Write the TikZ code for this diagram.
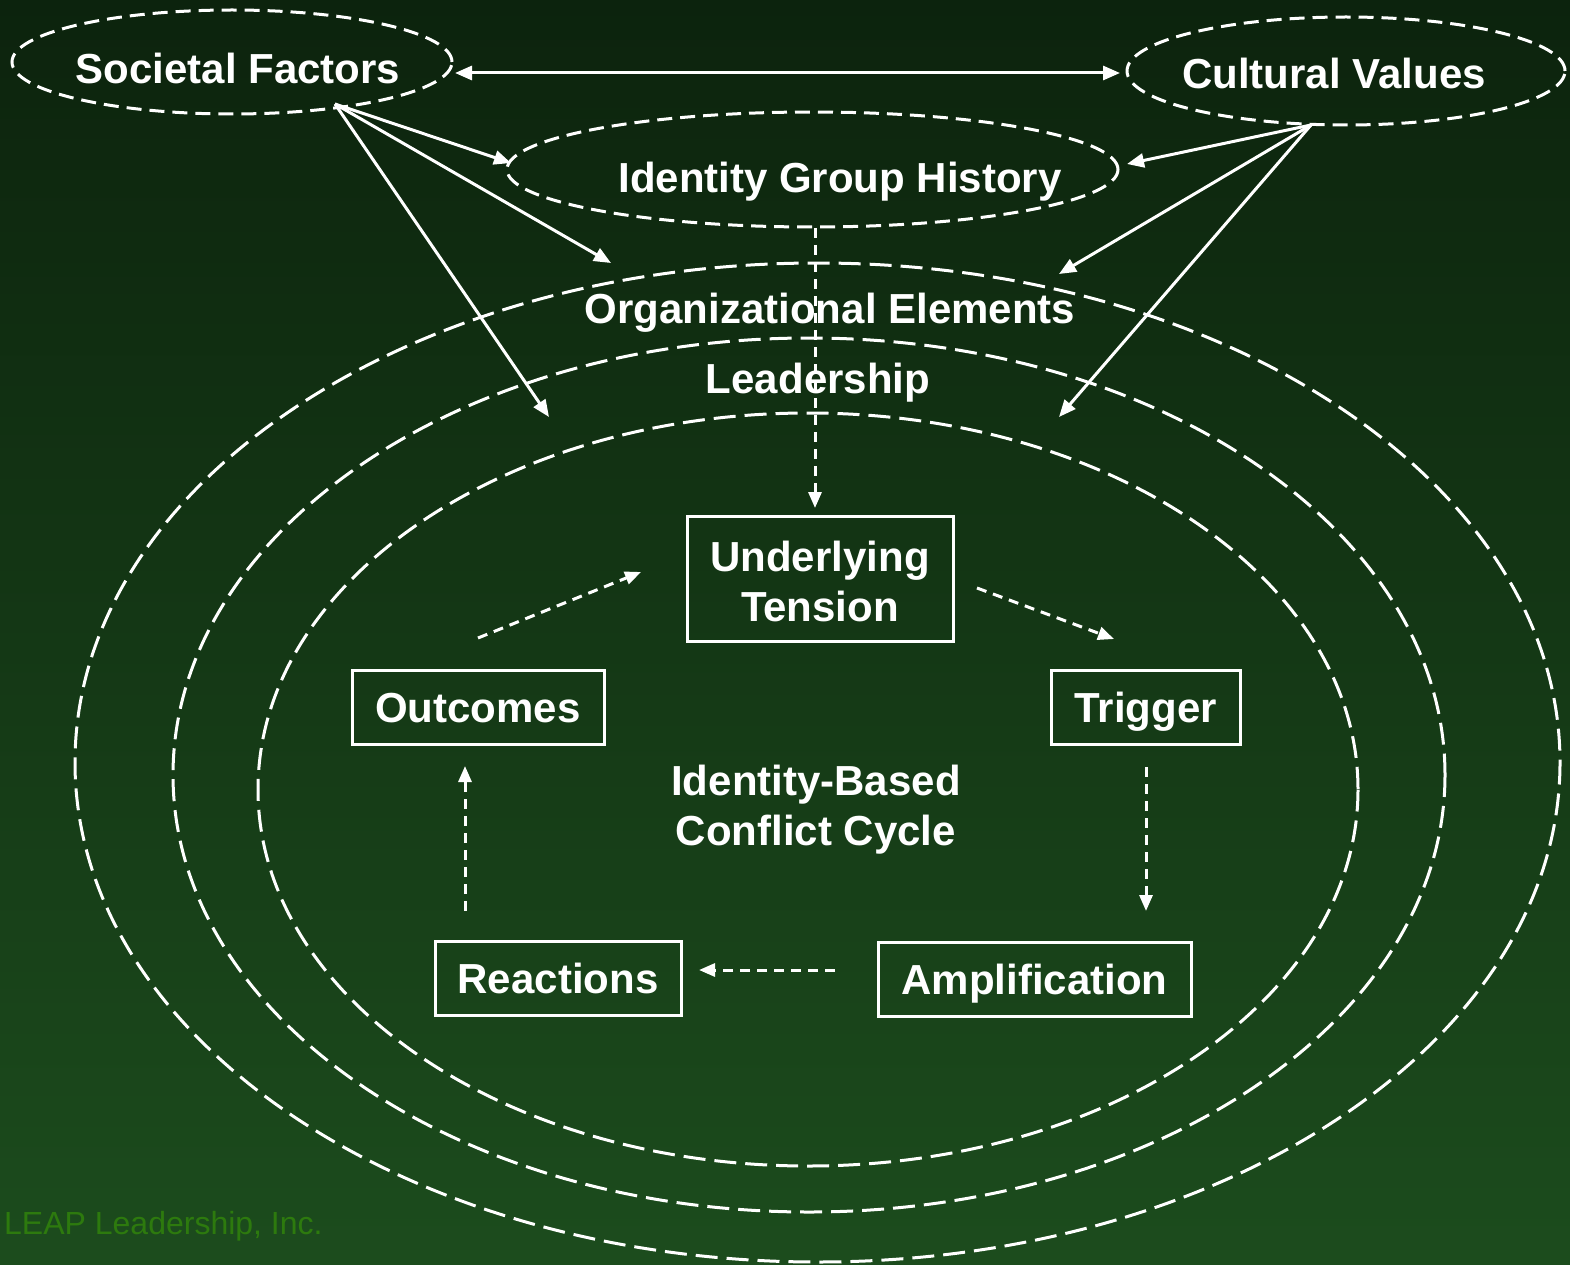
\documentclass[tikz,border=0pt]{standalone}
\usepackage{fontspec}
\setmainfont{Liberation Sans}
\usetikzlibrary{arrows.meta,shapes.geometric}
\definecolor{bgtop}{HTML}{0C230D}
\definecolor{bgmid}{HTML}{163F18}
\definecolor{bgbot}{HTML}{1C4C1D}
\definecolor{wmark}{HTML}{2D7A0E}
\begin{document}
\begin{tikzpicture}[x=1pt,y=-1pt,
  lbl/.style={text=white,font=\fontsize{42}{50}\selectfont\bfseries,align=center,inner sep=0pt},
  caps/.style={text height=30pt,text depth=0pt},
  ell/.style={ellipse,draw=white,line width=3pt,dash pattern=on 15pt off 8pt,inner sep=0pt},
  ring/.style={draw=white,line width=3pt,dash pattern=on 22pt off 9pt},
  cbox/.style={rectangle,draw=white,line width=3pt,inner sep=0pt,text=white,font=\fontsize{42}{50}\selectfont\bfseries,align=center},
  solidarrow/.style={draw=white,line width=3pt,-{Triangle[length=17pt,width=14pt]}},
  dasharrow/.style={draw=white,line width=3pt,dash pattern=on 10pt off 7pt,-{Triangle[length=16pt,width=13pt]}}
]
\useasboundingbox (0,0) rectangle (1570,1265);
\shade[top color=bgtop,middle color=bgmid,bottom color=bgbot] (0,0) rectangle (1570,1265);

% rings
\coordinate (orgc) at (817.5,762.5);
\coordinate (leadc) at (809,775);
\coordinate (cycc) at (808,789.5);
\draw[ring] (orgc) ellipse [x radius=742.5, y radius=499.5];
\draw[ring] (leadc) ellipse [x radius=636, y radius=437];
\draw[ring] (cycc) ellipse [x radius=550, y radius=376.5];

% top ellipses
\node[ell,minimum width=440pt,minimum height=104pt] (sfE) at (232,62) {};
\node[lbl,caps] (sfT) at (238,69) {Societal Factors};
\node[ell,minimum width=438pt,minimum height=108pt] (cvE) at (1346,71) {};
\node[lbl,caps] (cvT) at (1334,74) {Cultural Values};
\node[ell,minimum width=611pt,minimum height=115pt] (igE) at (812.5,169.5) {};
\node[lbl,caps] (igT) at (840,178) {Identity Group History};

% ring labels
\node[lbl,caps] (orgT) at (830,308) {Organizational Elements};
\node[lbl,caps] (leadT) at (818,378) {Leadership};
\node[lbl] (cycT) at (816,810) {Identity-Based\\Conflict Cycle};

% boxes
\node[cbox,minimum width=266pt,minimum height=125pt] (ut) at (820,578.5) {};
\node[lbl] (utT) at (820,581) {Underlying\\Tension};
\node[cbox,caps,minimum width=252pt,minimum height=74pt] (oc) at (478,707) {Outcomes};
\node[cbox,caps,minimum width=189pt,minimum height=74pt] (tr) at (1145.5,707) {Trigger};
\node[cbox,caps,minimum width=313pt,minimum height=74pt] (am) at (1034.5,979) {Amplification};
\node[cbox,caps,minimum width=246pt,minimum height=74pt] (re) at (558,978) {Reactions};

% double arrow
\coordinate (dl) at (455,73);
\coordinate (dr) at (1120,73);
\draw[draw=white,line width=3pt,{Triangle[length=17pt,width=14pt]}-{Triangle[length=17pt,width=14pt]}] (dl) -- (dr);

% societal arrows
\coordinate (sf) at (335,104);
\coordinate (sf1) at (511,163);
\coordinate (sf2) at (611,263);
\coordinate (sf3) at (549,417);
\draw[solidarrow] (sf) -- (sf1);
\draw[solidarrow] (sf) -- (sf2);
\draw[solidarrow] (sf) -- (sf3);

% cultural arrows
\coordinate (cv) at (1311,125);
\coordinate (cv1) at (1127,164);
\coordinate (cv2) at (1059,274);
\coordinate (cv3) at (1059,417);
\draw[solidarrow] (cv) -- (cv1);
\draw[solidarrow] (cv) -- (cv2);
\draw[solidarrow] (cv) -- (cv3);

% history down to tension
\coordinate (h0) at (815,228);
\coordinate (h1) at (815,508);
\draw[dasharrow] (h0) -- (h1);

% cycle arrows
\coordinate (a0) at (478,638);
\coordinate (a1) at (641,572);
\draw[dasharrow] (a0) -- (a1);
\coordinate (b0) at (977,588);
\coordinate (b1) at (1114,639);
\draw[dasharrow] (b0) -- (b1);
\coordinate (c0) at (1146,767);
\coordinate (c1) at (1146,911);
\draw[dasharrow] (c0) -- (c1);
\coordinate (d0) at (835,970);
\coordinate (d1) at (699,970);
\draw[dasharrow] (d0) -- (d1);
\coordinate (e0) at (465,911);
\coordinate (e1) at (465,766);
\draw[dasharrow] (e0) -- (e1);

% watermark
\node[anchor=west,inner sep=0pt,text=wmark,font=\fontsize{32}{36}\selectfont] (wm) at (4,1226) {LEAP Leadership, Inc.};
\end{tikzpicture}
\end{document}
